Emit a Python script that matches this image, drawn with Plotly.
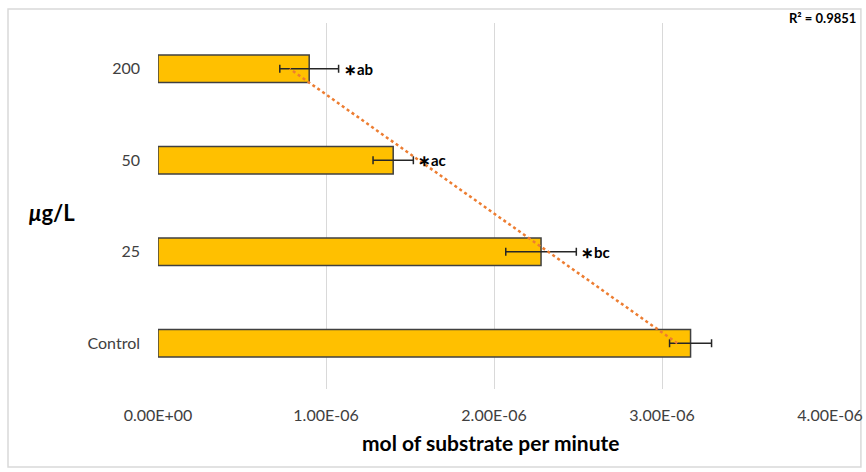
import numpy as np
import plotly.graph_objects as go

categories = ["Control", "25", "50", "200"]
rates = [3.17e-6, 2.28e-6, 1.40e-6, 0.90e-6]
errors = [0.125e-6, 0.21e-6, 0.12e-6, 0.175e-6]
labels = ["", "∗bc", "∗ac", "∗ab"]
x_tickvals = [0, 1e-6, 2e-6, 3e-6, 4e-6]
x_ticktext = ["0.00E+00", "1.00E-06", "2.00E-06", "3.00E-06", "4.00E-06"]
r2_text = "R² = 0.9851"

# linear trendline over category index (as in the spreadsheet chart)
idx = np.arange(1, len(rates) + 1)
slope, intercept = np.polyfit(idx, rates, 1)
trend = slope * idx + intercept

FONT = "Lato"

fig = go.Figure()
fig.add_trace(go.Bar(
    y=categories, x=rates, orientation="h", width=0.3,
    marker=dict(color="#FFC000", line=dict(color="#404040", width=1.5)),
    error_x=dict(type="data", array=errors, visible=True,
                 color="#262626", thickness=1.5, width=4),
    showlegend=False, hoverinfo="skip",
))
fig.add_trace(go.Scatter(
    y=categories, x=trend, mode="lines",
    line=dict(color="#ED7D31", width=2.5, dash="dot"),
    showlegend=False, hoverinfo="skip",
))

for i, (v, e, t) in enumerate(zip(rates, errors, labels)):
    if t:
        fig.add_annotation(x=v + e, y=i, xref="x", yref="y",
                           text="<b>" + t + "</b>", showarrow=False,
                           xanchor="left", yanchor="middle", xshift=3,
                           font=dict(family=FONT, size=15, color="#000000"))

fig.add_annotation(x=1.0417, y=1.0137, xref="paper", yref="paper",
                   text="<b>" + r2_text + "</b>", showarrow=False,
                   xanchor="right", yanchor="middle",
                   font=dict(family=FONT, size=13, color="#000000"))
fig.add_annotation(x=-0.1577, y=0.4836, xref="paper", yref="paper",
                   text="<b><i>μ</i>g/L</b>", showarrow=False,
                   xanchor="center", yanchor="middle",
                   font=dict(family=FONT, size=22, color="#000000"))
fig.add_annotation(x=0.495, y=-0.1475, xref="paper", yref="paper",
                   text="<b>mol of substrate per minute</b>", showarrow=False,
                   xanchor="center", yanchor="middle",
                   font=dict(family=FONT, size=21, color="#000000"))

fig.add_shape(type="rect", xref="paper", yref="paper",
              x0=-0.2232, x1=1.046, y0=-0.2131, y1=1.0383,
              line=dict(color="#D9D9D9", width=1.5), layer="below")

fig.update_layout(
    width=866, height=472,
    margin=dict(l=158, r=36, t=23, b=83),
    paper_bgcolor="white", plot_bgcolor="white",
    font=dict(family=FONT, size=16, color="#404040"),
    xaxis=dict(range=[0, 4e-6], tickvals=x_tickvals, ticktext=x_ticktext,
               showgrid=True, gridcolor="#D9D9D9", gridwidth=1,
               zeroline=False, showline=False, ticks="",
               ticklabelstandoff=15, automargin=False,
               tickfont=dict(family=FONT, size=16, color="#404040")),
    yaxis=dict(type="category", categoryorder="array", categoryarray=categories,
               range=[-0.5, len(categories) - 0.5],
               showgrid=False, zeroline=False, showline=False, ticks="",
               ticklabelstandoff=17, automargin=False,
               tickfont=dict(family=FONT, size=16, color="#404040")),
)

fig.write_html("out.html")
